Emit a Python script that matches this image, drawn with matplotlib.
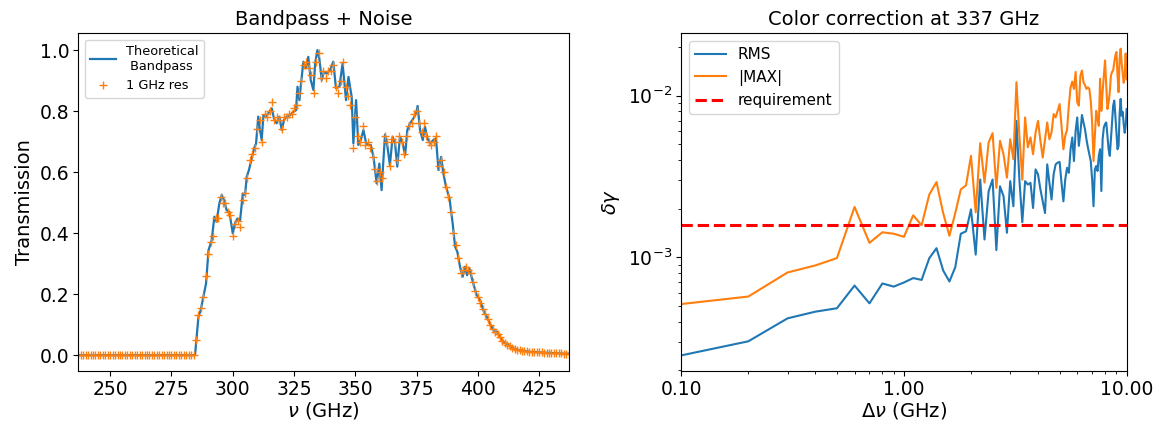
import numpy as np
import matplotlib
matplotlib.use("Agg")
import matplotlib.pyplot as plt
from matplotlib.ticker import FormatStrFormatter, NullFormatter

# bandpass theorique (trace fin)
nu_line = [237.0, 284.6, 286.0, 286.9, 288.0, 289.1, 290.1, 291.4, 292.5, 293.4,
           294.5, 295.5, 296.4, 297.5, 298.6, 300.0, 300.9, 301.9, 303.0, 304.1,
           305.0, 305.7, 306.6, 307.4, 308.7, 309.5, 310.4, 311.1, 311.8, 312.5,
           313.6, 314.5, 315.9, 316.8, 317.9, 319.0, 320.0, 320.9, 322.0, 323.4,
           324.7, 325.8, 326.4, 327.2, 327.7, 328.8, 329.9, 330.8, 331.8, 332.9,
           333.6, 334.5, 335.3, 336.3, 337.2, 338.3, 339.7, 341.0, 342.1, 343.5,
           344.8, 346.2, 347.2, 348.5, 349.2, 350.3, 351.2, 352.2, 353.3, 354.4,
           355.3, 356.3, 357.4, 358.7, 359.8, 360.7, 362.1, 363.1, 364.1, 365.2,
           366.2, 367.1, 368.2, 369.3, 370.3, 371.2, 372.3, 373.7, 374.8, 375.4,
           376.4, 377.5, 378.4, 379.4, 380.5, 381.8, 382.9, 383.9, 385.0, 385.9,
           387.0, 388.4, 389.7, 390.7, 391.6, 392.7, 393.8, 394.7, 395.6, 396.5,
           398.1, 399.5, 400.9, 402.2, 403.6, 404.9, 406.3, 407.7, 409.0, 410.4,
           412.4, 414.5, 417.2, 421.3, 428.1, 434.9, 437.0]
t_line = [0.0, 0.0, 0.126, 0.147, 0.191, 0.235, 0.344, 0.377, 0.454, 0.437,
          0.497, 0.525, 0.508, 0.475, 0.470, 0.399, 0.432, 0.448, 0.443, 0.530,
          0.525, 0.585, 0.607, 0.634, 0.678, 0.694, 0.782, 0.738, 0.705, 0.787,
          0.782, 0.793, 0.809, 0.776, 0.760, 0.782, 0.738, 0.771, 0.782, 0.787,
          0.798, 0.803, 0.880, 0.836, 0.880, 0.962, 0.940, 0.978, 0.902, 0.869,
          0.956, 1.000, 0.973, 0.902, 0.929, 0.923, 0.935, 0.962, 0.875, 0.880,
          0.956, 0.836, 0.912, 0.847, 0.694, 0.836, 0.689, 0.705, 0.738, 0.694,
          0.689, 0.689, 0.650, 0.563, 0.628, 0.541, 0.723, 0.683, 0.623, 0.716,
          0.694, 0.618, 0.716, 0.694, 0.656, 0.738, 0.760, 0.776, 0.793, 0.817,
          0.738, 0.705, 0.749, 0.711, 0.694, 0.705, 0.711, 0.607, 0.650, 0.596,
          0.552, 0.514, 0.432, 0.355, 0.339, 0.290, 0.257, 0.290, 0.262, 0.284,
          0.235, 0.197, 0.180, 0.147, 0.126, 0.104, 0.082, 0.077, 0.060, 0.044,
          0.033, 0.022, 0.016, 0.011, 0.008, 0.005, 0.005]

# echantillons a 1 GHz (237 -> 437 GHz)
nu_res = list(range(237, 438))
t_res = [0.0] * 48 + [
    0.05, 0.13, 0.155, 0.19, 0.26, 0.33, 0.37, 0.39, 0.45, 0.45,     # 285-294
    0.52, 0.50, 0.50, 0.47, 0.46, 0.39, 0.43, 0.44, 0.42, 0.51,      # 295-304
    0.53, 0.58, 0.64, 0.66, 0.68, 0.74, 0.77, 0.70, 0.79, 0.78,      # 305-314
    0.80, 0.83, 0.77, 0.78, 0.77, 0.74, 0.78, 0.78, 0.79, 0.79,      # 315-324
    0.81, 0.82, 0.86, 0.90, 0.95, 0.96, 0.94, 0.92, 0.86, 0.96,      # 325-334
    0.99, 0.91, 0.93, 0.91, 0.93, 0.93, 0.95, 0.88, 0.86, 0.90,      # 335-344
    0.96, 0.88, 0.85, 0.82, 0.68, 0.78, 0.72, 0.70, 0.75, 0.69,      # 345-354
    0.70, 0.68, 0.65, 0.61, 0.57, 0.60, 0.58, 0.72, 0.70, 0.62,      # 355-364
    0.71, 0.70, 0.64, 0.72, 0.70, 0.66, 0.72, 0.75, 0.76, 0.79,      # 365-374
    0.80, 0.76, 0.73, 0.76, 0.72, 0.70, 0.69, 0.70, 0.72, 0.62,      # 375-384
    0.64, 0.60, 0.55, 0.52, 0.47, 0.40, 0.36, 0.32, 0.27, 0.28,      # 385-394
    0.29, 0.28, 0.27, 0.24, 0.21, 0.19, 0.17, 0.15, 0.135, 0.12,     # 395-404
    0.10, 0.085, 0.075, 0.07, 0.058, 0.048, 0.04, 0.034, 0.03, 0.025,  # 405-414
    0.021, 0.018, 0.016, 0.015, 0.013, 0.012, 0.011, 0.011, 0.010, 0.010,  # 415-424
    0.009, 0.009, 0.008, 0.008, 0.008, 0.007, 0.007, 0.006, 0.006, 0.006,  # 425-434
    0.005, 0.005, 0.005]                                               # 435-437

# correction de couleur vs resolution
dnu = [0.1, 0.2, 0.3, 0.4, 0.5, 0.6, 0.7, 0.8, 0.9, 1.0,
       1.1, 1.2, 1.3, 1.4, 1.5, 1.6, 1.7, 1.8, 1.9, 2.0,
       2.1, 2.2, 2.3, 2.4, 2.5, 2.6, 2.7, 2.8, 2.9, 3.0,
       3.1, 3.2, 3.3, 3.4, 3.5, 3.6, 3.7, 3.8, 3.9, 4.0,
       4.1, 4.2, 4.3, 4.4, 4.5, 4.6, 4.7, 4.8, 4.9, 5.0,
       5.1, 5.2, 5.3, 5.4, 5.5, 5.6, 5.7, 5.8, 5.9, 6.0,
       6.1, 6.2, 6.3, 6.4, 6.5, 6.6, 6.7, 6.8, 6.9, 7.0,
       7.1, 7.2, 7.3, 7.4, 7.5, 7.6, 7.7, 7.8, 7.9, 8.0,
       8.1, 8.2, 8.3, 8.4, 8.5, 8.6, 8.7, 8.8, 8.9, 9.0,
       9.1, 9.2, 9.3, 9.4, 9.5, 9.6, 9.7, 9.8, 9.9, 10.0]
rms = [2.48e-4, 3.03e-4, 4.20e-4, 4.62e-4, 4.85e-4, 6.70e-4, 5.20e-4, 6.90e-4, 6.60e-4, 7.00e-4,
       7.45e-4, 7.26e-4, 9.90e-4, 1.14e-3, 8.30e-4, 7.10e-4, 8.70e-4, 1.40e-3, 1.45e-3, 1.98e-3,
       1.04e-3, 3.03e-3, 1.29e-3, 2.56e-3, 3.03e-3, 1.11e-3, 2.75e-3, 2.39e-3, 1.42e-3, 2.96e-3,
       2.07e-3, 6.98e-3, 3.00e-3, 1.65e-3, 2.96e-3, 2.82e-3, 2.89e-3, 2.02e-3, 3.50e-3, 3.26e-3,
       2.63e-3, 2.22e-3, 1.88e-3, 3.76e-3, 2.89e-3, 2.28e-3, 3.26e-3, 3.76e-3, 3.85e-3, 3.89e-3,
       2.89e-3, 2.22e-3, 3.03e-3, 3.58e-3, 3.33e-3, 4.66e-3, 5.51e-3, 3.94e-3, 6.05e-3, 7.33e-3,
       4.89e-3, 5.92e-3, 7.59e-3, 6.82e-3, 6.21e-3, 5.37e-3, 4.78e-3, 4.34e-3, 3.94e-3, 3.03e-3,
       2.07e-3, 3.50e-3, 3.67e-3, 3.42e-3, 4.24e-3, 4.66e-3, 2.57e-3, 5.37e-3, 6.35e-3, 6.67e-3,
       6.82e-3, 5.64e-3, 4.66e-3, 4.24e-3, 5.37e-3, 6.82e-3, 8.67e-3, 9.31e-3, 7.50e-3, 5.92e-3,
       4.66e-3, 4.89e-3, 7.69e-3, 9.55e-3, 7.50e-3, 7.94e-3, 6.67e-3, 5.89e-3, 6.46e-3, 8.26e-3]
max_abs = [5.15e-4, 5.73e-4, 8.07e-4, 8.92e-4, 9.90e-4, 2.05e-3, 1.23e-3, 1.43e-3, 1.40e-3, 1.34e-3,
           1.82e-3, 1.58e-3, 2.45e-3, 2.92e-3, 1.88e-3, 1.36e-3, 1.88e-3, 2.63e-3, 2.79e-3, 4.24e-3,
           1.90e-3, 5.08e-3, 2.90e-3, 5.13e-3, 5.86e-3, 2.69e-3, 5.25e-3, 4.33e-3, 3.11e-3, 5.37e-3,
           4.04e-3, 1.21e-2, 5.62e-3, 3.02e-3, 7.33e-3, 4.79e-3, 5.51e-3, 4.34e-3, 5.92e-3, 6.98e-3,
           5.25e-3, 4.14e-3, 5.37e-3, 6.82e-3, 5.37e-3, 5.92e-3, 7.69e-3, 7.33e-3, 8.05e-3, 8.87e-3,
           6.50e-3, 4.66e-3, 5.64e-3, 6.14e-3, 8.67e-3, 1.125e-2, 1.22e-2, 1.10e-2, 1.40e-2, 9.08e-3,
           8.67e-3, 1.33e-2, 1.43e-2, 1.21e-2, 1.16e-2, 1.10e-2, 1.125e-2, 1.10e-2, 9.31e-3, 6.82e-3,
           3.94e-3, 5.64e-3, 8.05e-3, 7.16e-3, 6.50e-3, 1.27e-2, 8.05e-3, 1.05e-2, 1.33e-2, 1.65e-2,
           1.15e-2, 8.26e-3, 9.08e-3, 1.05e-2, 1.33e-2, 1.40e-2, 1.43e-2, 1.61e-2, 1.77e-2, 1.86e-2,
           1.33e-2, 1.05e-2, 1.69e-2, 1.95e-2, 1.58e-2, 1.38e-2, 1.20e-2, 1.32e-2, 1.82e-2, 1.26e-2]
requirement = 1.585e-3

fig = plt.figure(figsize=(11.64, 4.23), dpi=100)
ax1 = fig.add_axes([0.0673, 0.1229, 0.4212, 0.7983])
ax2 = fig.add_axes([0.5853, 0.1236, 0.3826, 0.7976])

# panneau gauche
ax1.plot(nu_line, t_line, color="tab:blue", lw=1.6, label="Theoretical\n Bandpass")
ax1.plot(nu_res, t_res, "+", color="tab:orange", ms=6, mew=1.0, label="1 GHz res")
ax1.set_xlim(237, 437)
ax1.set_ylim(-0.052, 1.055)
ax1.set_xlabel(r"$\nu$ (GHz)", fontsize=14, labelpad=1)
ax1.set_ylabel("Transmission", fontsize=14)
ax1.set_title("Bandpass + Noise", fontsize=14)
ax1.tick_params(labelsize=13.5, pad=3)
ax1.legend(loc="upper left", fontsize=9.3)

# panneau droit
ax2.plot(dnu, rms, color="tab:blue", lw=1.5, label="RMS")
ax2.plot(dnu, max_abs, color="tab:orange", lw=1.5, label="|MAX|")
ax2.axhline(requirement, color="red", ls="--", lw=2.2, label="requirement")
ax2.set_xscale("log")
ax2.set_yscale("log")
ax2.set_xlim(0.1, 10)
ax2.xaxis.set_major_formatter(FormatStrFormatter("%.2f"))
ax2.xaxis.set_minor_formatter(NullFormatter())
ax2.set_xlabel(r"$\Delta\nu$ (GHz)", fontsize=14, labelpad=1)
ax2.set_ylabel(r"$\delta\gamma$", fontsize=14)
ax2.set_title("Color correction at 337 GHz", fontsize=14)
ax2.tick_params(labelsize=13.5, pad=3)
ax2.legend(loc="upper left", fontsize=11)

fig.savefig("out.png", dpi=100)
